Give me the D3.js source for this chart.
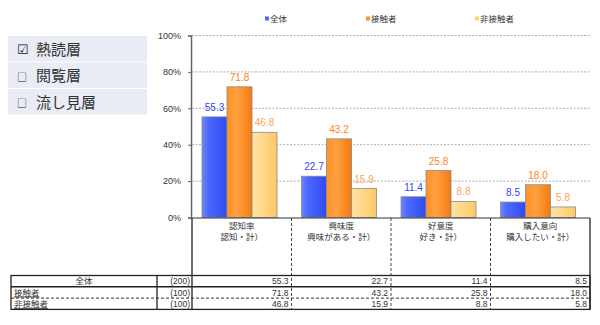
<!DOCTYPE html>
<html>
<head>
<meta charset="utf-8">
<script src="https://cdn.jsdelivr.net/npm/d3@7"></script>
<style>
  body { margin: 0; background: #fff; }
  svg { display: block; }
</style>
</head>
<body>
<div id="chart"></div>
<script>
// data
const categories = ["認知率", "興味度", "好意度", "購入意向"];
const subLabels = ["認知・計）", "興味がある・計）", "好き・計）", "購入したい・計）"];
const subPrefix = ["認知", "興味", "好き", "購入"];
const seriesNames = ["全体", "接触者", "非接触者"];
const seriesN = ["(200)", "(100)", "(100)"];
const valAll = [55.3, 22.7, 11.4, 8.5];
const valContact = [71.8, 43.2, 25.8, 18.0];
const valNon = [46.8, 15.9, 8.8, 5.8];
const yTicks = [0, 20, 40, 60, 80, 100];
const layers = ["熱読層", "閲覧層", "流し見層"];

const seriesVals = [valAll, valContact, valNon];
const labelColors = ["#3344ff", "#ff7f27", "#ffa64d"];
const jp = "'Noto Sans CJK JP', sans-serif";
const num = "'Liberation Sans', Arial, sans-serif";

const W = 600, H = 325;
const svg = d3.select("#chart").append("svg")
    .attr("width", W).attr("height", H);

const defs = svg.append("defs");
const grads = [
  [["0%", "#7086ff"], ["25%", "#4d68ff"], ["100%", "#2f4bf0"]],
  [["0%", "#ff9226"], ["40%", "#ffa040"], ["100%", "#f47a10"]],
  [["0%", "#ffe3a6"], ["40%", "#ffd98c"], ["100%", "#ffc766"]]
];
grads.forEach((g, i) => {
  const lg = defs.append("linearGradient").attr("id", "g" + i)
      .attr("x1", "0%").attr("x2", "100%").attr("y1", "0%").attr("y2", "0%");
  g.forEach(s => lg.append("stop").attr("offset", s[0]).attr("stop-color", s[1]));
});

// left panel
const panel = svg.append("g");
layers.forEach((t, i) => {
  const y0 = 36 + i * 26.5;
  panel.append("rect").attr("x", 8).attr("y", y0).attr("width", 139).attr("height", 25.5)
      .attr("fill", "#e9ecf5");
  panel.append("text").attr("x", 17).attr("y", y0 + 18)
      .attr("font-family", jp).attr("font-size", i === 0 ? 13 : 10).attr("fill", "#222")
      .text(i === 0 ? "☑" : "□");
  panel.append("text").attr("x", 36).attr("y", y0 + 18.5)
      .attr("font-family", jp).attr("font-size", 15).attr("fill", "#333")
      .text(t);
});

// scales
const x = d3.scaleBand().domain(categories).range([192, 590]);
const xs = d3.scaleBand().domain(seriesNames).range([10, 85]);
const y = d3.scaleLinear().domain([0, 100]).range([217.5, 35.5]);

// grid
svg.append("g").selectAll("line").data(yTicks.filter(d => d > 0)).join("line")
    .attr("x1", 192).attr("x2", 590)
    .attr("y1", d => y(d)).attr("y2", d => y(d))
    .attr("stroke", "#999").attr("stroke-width", 0.8).attr("stroke-dasharray", "2,1.5");

// y axis
const yAxis = svg.append("g").attr("transform", "translate(191,0)")
    .call(d3.axisLeft(y).tickValues(yTicks).tickFormat(d => d + "%").tickSize(3));
yAxis.select(".domain").attr("stroke", "#666").attr("stroke-width", 1.5);
yAxis.selectAll(".tick line").attr("stroke", "#666");
yAxis.selectAll("text").attr("font-family", num).attr("font-size", 9).attr("fill", "#333")
    .attr("x", -10);

// bars
seriesVals.forEach((vals, si) => {
  const g = svg.append("g");
  g.selectAll("rect").data(vals).join("rect")
      .attr("x", (d, i) => x(categories[i]) + xs(seriesNames[si]))
      .attr("y", d => y(d))
      .attr("width", xs.bandwidth())
      .attr("height", d => y(0) - y(d))
      .attr("fill", "url(#g" + si + ")")
      .attr("stroke", "#8a8a8a").attr("stroke-width", 0.8);
  g.selectAll("text").data(vals).join("text")
      .attr("x", (d, i) => x(categories[i]) + xs(seriesNames[si]) + xs.bandwidth() / 2)
      .attr("y", d => y(d) - 6)
      .attr("text-anchor", "middle")
      .attr("font-family", num).attr("font-size", 10).attr("fill", labelColors[si])
      .text(d => d.toFixed(1));
});

// legend
const legX = [265, 366, 475];
seriesNames.forEach((s, i) => {
  svg.append("rect").attr("x", legX[i]).attr("y", 16.5).attr("width", 4).attr("height", 4)
      .attr("fill", ["#4d68ff", "#ff9226", "#ffcf70"][i]);
  svg.append("text").attr("x", legX[i] + 5).attr("y", 21.5)
      .attr("font-family", jp).attr("font-size", 8.5).attr("fill", "#333").text(s);
});

// category label area
const catTop = 218, tTop = 275.5, rowH = 11.3;
const cat = svg.append("g");
cat.append("line").attr("x1", 192).attr("x2", 590).attr("y1", catTop).attr("y2", catTop)
    .attr("stroke", "#333").attr("stroke-width", 1);
categories.forEach((c, i) => {
  const cx = x(c) + x.bandwidth() / 2;
  cat.append("text").attr("x", cx).attr("y", 229).attr("text-anchor", "middle")
      .attr("font-family", jp).attr("font-size", 8.5).attr("fill", "#333").text(c);
  cat.append("text").attr("x", cx).attr("y", 240).attr("text-anchor", "middle")
      .attr("font-family", jp).attr("font-size", 8.5).attr("fill", "#333")
      .text(subLabels[i]);
});
x.domain().forEach((c, i) => {
  if (i > 0) {
    cat.append("line").attr("x1", x(c)).attr("x2", x(c))
        .attr("y1", catTop).attr("y2", tTop + rowH * 3)
        .attr("stroke", "#444").attr("stroke-width", 1).attr("stroke-dasharray", "3,2");
  }
});
[192, 590].forEach(xx => {
  cat.append("line").attr("x1", xx).attr("x2", xx).attr("y1", catTop).attr("y2", tTop + rowH * 3)
      .attr("stroke", "#222").attr("stroke-width", 1.3);
});

// data table
const tab = svg.append("g");
const tL = 11, tN = 157, tR = 590;
tab.append("rect").attr("x", tL).attr("y", tTop).attr("width", tR - tL).attr("height", rowH * 3)
    .attr("fill", "none").attr("stroke", "#222").attr("stroke-width", 1.3);
tab.append("line").attr("x1", tL).attr("x2", tR).attr("y1", tTop + rowH).attr("y2", tTop + rowH)
    .attr("stroke", "#222").attr("stroke-width", 1.6);
tab.append("line").attr("x1", tL).attr("x2", tR).attr("y1", tTop + rowH * 2).attr("y2", tTop + rowH * 2)
    .attr("stroke", "#333").attr("stroke-width", 1).attr("stroke-dasharray", "3,2");
tab.append("line").attr("x1", tN).attr("x2", tN).attr("y1", tTop).attr("y2", tTop + rowH * 3)
    .attr("stroke", "#222").attr("stroke-width", 1.3);

seriesNames.forEach((s, r) => {
  const ty = tTop + rowH * r + rowH - 2.5;
  tab.append("text")
      .attr("x", r === 0 ? (tL + tN) / 2 : tL + 3).attr("y", ty)
      .attr("text-anchor", r === 0 ? "middle" : "start")
      .attr("font-family", jp).attr("font-size", 8.5).attr("fill", "#333")
      .attr("text-decoration", r === 0 ? "none" : "underline")
      .text(s);
  tab.append("text").attr("x", 190).attr("y", ty).attr("text-anchor", "end")
      .attr("font-family", num).attr("font-size", 8.5).attr("fill", "#333").text(seriesN[r]);
  seriesVals[r].forEach((v, i) => {
    tab.append("text").attr("x", x(categories[i]) + x.bandwidth() - 3).attr("y", ty)
        .attr("text-anchor", "end")
        .attr("font-family", num).attr("font-size", 8.5).attr("fill", "#333")
        .text(v.toFixed(1));
  });
});
</script>
</body>
</html>
